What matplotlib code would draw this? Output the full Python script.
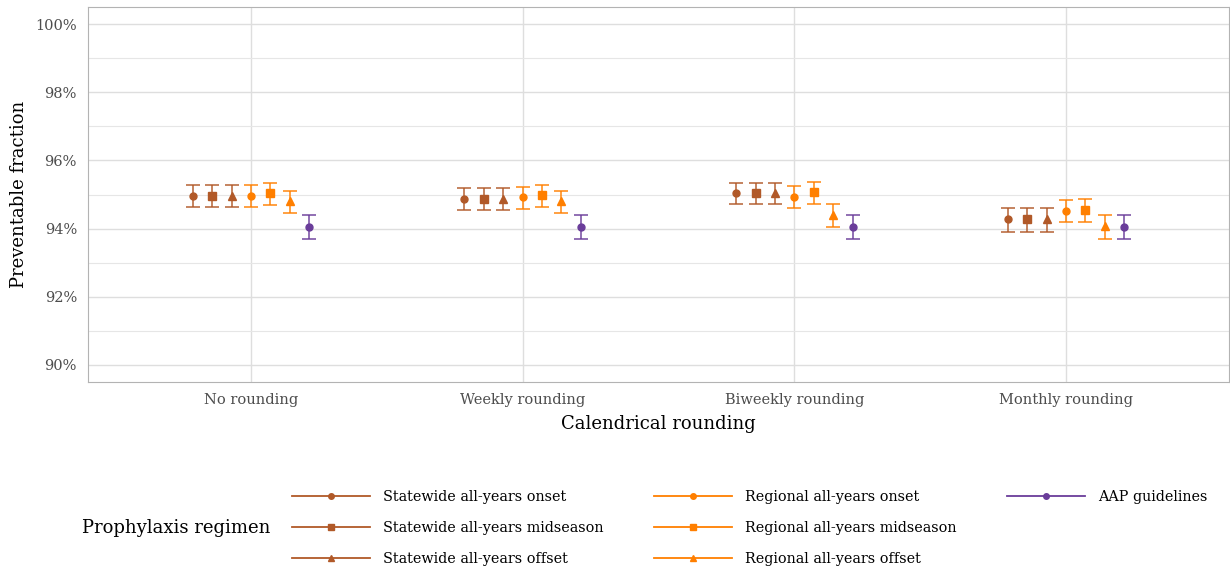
import matplotlib
matplotlib.use("Agg")
import matplotlib.pyplot as plt
from matplotlib.lines import Line2D
from matplotlib.ticker import FuncFormatter, MultipleLocator

plt.rcParams["font.family"] = ["DejaVu Serif"]

roundings = ["No rounding", "Weekly rounding", "Biweekly rounding", "Monthly rounding"]
regimens = ["Statewide all-years onset", "Statewide all-years midseason", "Statewide all-years offset",
            "Regional all-years onset", "Regional all-years midseason", "Regional all-years offset",
            "AAP guidelines"]

# estimate per regimen, one value per rounding level (percent)
est = [
    [94.96, 94.87, 95.05, 94.27],
    [94.96, 94.87, 95.05, 94.27],
    [94.96, 94.87, 95.05, 94.27],
    [94.96, 94.92, 94.94, 94.52],
    [95.03, 94.99, 95.06, 94.55],
    [94.81, 94.80, 94.40, 94.09],
    [94.06, 94.05, 94.06, 94.05],
]
lo = [
    [94.62, 94.54, 94.72, 93.90],
    [94.62, 94.54, 94.72, 93.90],
    [94.62, 94.54, 94.72, 93.90],
    [94.62, 94.57, 94.61, 94.18],
    [94.70, 94.64, 94.73, 94.19],
    [94.47, 94.45, 94.06, 93.69],
    [93.69, 93.69, 93.69, 93.69],
]
hi = [
    [95.28, 95.20, 95.35, 94.59],
    [95.28, 95.20, 95.35, 94.59],
    [95.28, 95.20, 95.35, 94.59],
    [95.28, 95.23, 95.25, 94.85],
    [95.35, 95.28, 95.36, 94.86],
    [95.11, 95.10, 94.71, 94.40],
    [94.41, 94.39, 94.39, 94.39],
]

BROWN, ORANGE, PURPLE = "#B15928", "#FF7F00", "#6A3D9A"
colors = [BROWN] * 3 + [ORANGE] * 3 + [PURPLE]
markers = ["o", "s", "^", "o", "s", "^", "o"]
msizes = [5, 6, 6, 5, 6, 6, 5]

fig = plt.figure(figsize=(12.3, 5.71), dpi=100)
ax = fig.add_axes([88 / 1230, 1 - 382 / 571, 1141 / 1230, 375 / 571])

dodge = 0.5 / 7
for i, name in enumerate(regimens):
    xs = [k + 1 + (i - 3) * dodge for k in range(len(roundings))]
    yerr = [[e - l for e, l in zip(est[i], lo[i])], [h - e for e, h in zip(est[i], hi[i])]]
    ax.errorbar(xs, est[i], yerr=yerr, fmt="none", ecolor=colors[i], alpha=0.8,
                elinewidth=1.3, capsize=5, capthick=1.3, zorder=3)
    ax.plot(xs, est[i], ls="none", marker=markers[i], ms=msizes[i], color=colors[i], zorder=4)

ax.set_xlim(0.4, 4.6)
ax.set_ylim(89.5, 100.5)
ax.set_xticks(range(1, 5))
ax.set_xticklabels(roundings)
ax.yaxis.set_major_locator(MultipleLocator(2))
ax.yaxis.set_minor_locator(MultipleLocator(1))
ax.yaxis.set_major_formatter(FuncFormatter(lambda v, p: f"{v:.0f}%"))
ax.grid(True, which="major", color="#DEDEDE", lw=1.0)
ax.grid(True, which="minor", axis="y", color="#E6E6E6", lw=0.8)
ax.set_axisbelow(True)
ax.tick_params(which="both", length=0, labelsize=10.5, colors="#4D4D4D")
ax.tick_params(axis="x", pad=8)
ax.tick_params(axis="y", pad=8)
for s in ax.spines.values():
    s.set_color("#B3B3B3")
    s.set_linewidth(0.8)

ax.set_xlabel("Calendrical rounding", fontsize=13, labelpad=6)
ax.set_ylabel("Preventable fraction", fontsize=13, labelpad=5)

handles = [Line2D([], [], color=c, marker=m, ms=ms - 1, lw=1.3)
           for c, m, ms in zip(colors, markers, msizes)]
labels = list(regimens)
# pad so that the third column holds AAP alone and columns fill 3-3-1
handles += [Line2D([], [], alpha=0)] * 2
labels += ["", ""]
fig.legend(handles, labels, ncol=3, loc="center left", bbox_to_anchor=(292 / 1230, 1 - 528 / 571),
           frameon=False, fontsize=10.4, handlelength=5.4, handletextpad=0.9,
           columnspacing=3.5, labelspacing=1.2, borderpad=0, borderaxespad=0)
fig.text(82 / 1230, 1 - 528 / 571, "Prophylaxis regimen", fontsize=13, va="center", ha="left")

fig.savefig("out.png", dpi=100)
